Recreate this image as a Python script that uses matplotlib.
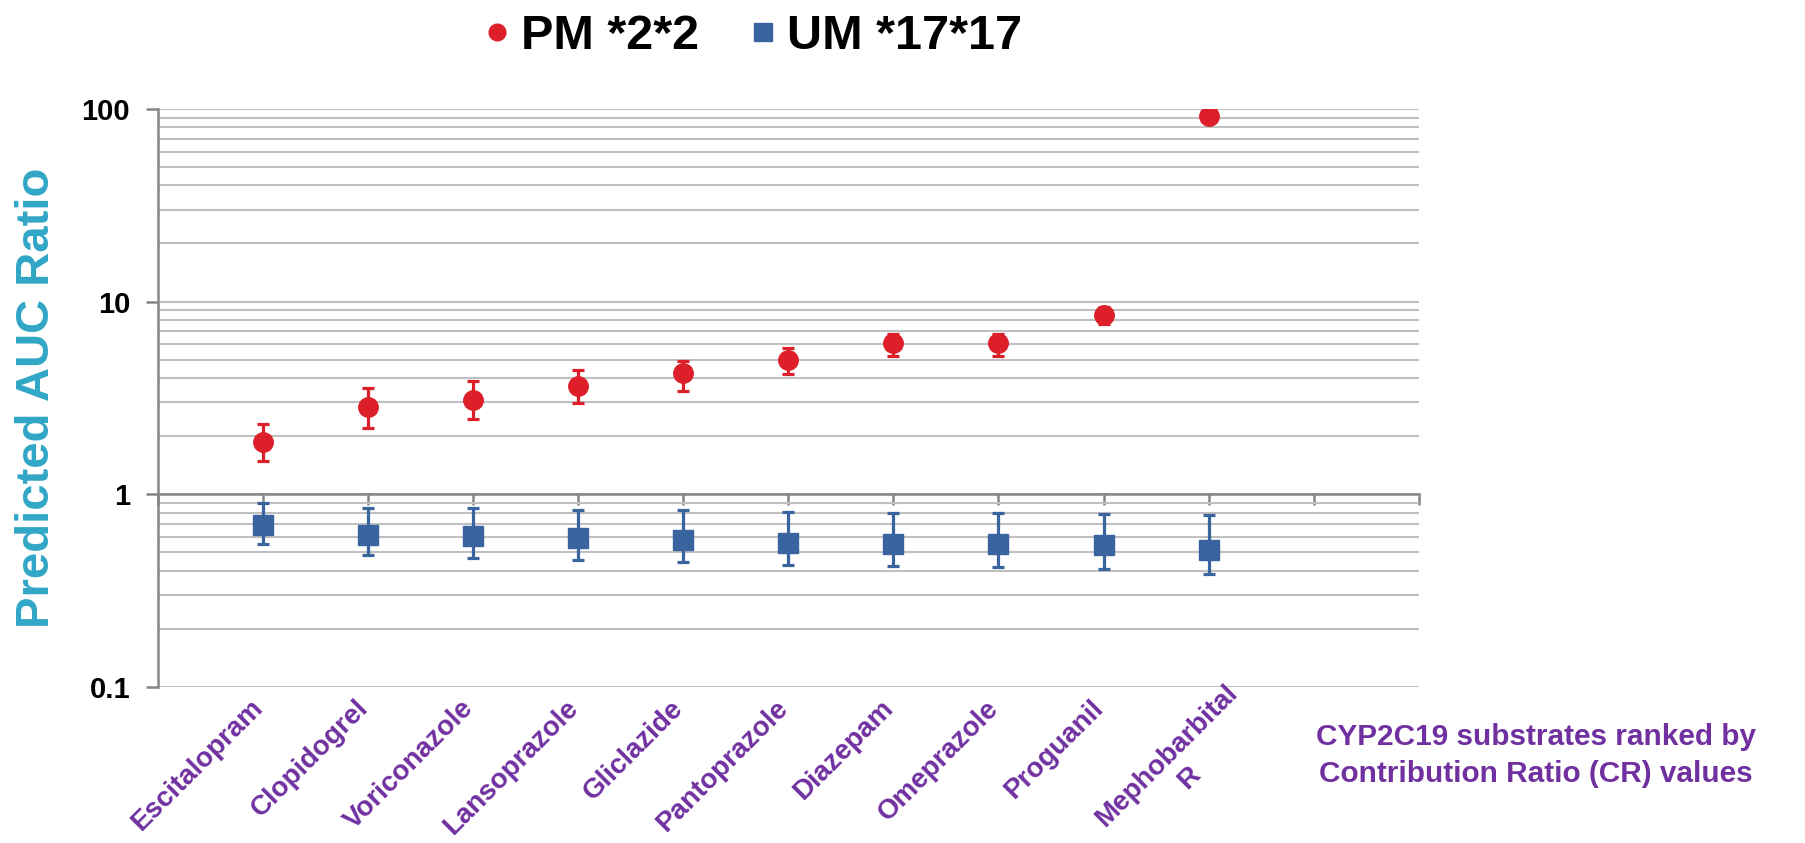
import matplotlib
matplotlib.use("Agg")
import matplotlib.pyplot as plt
from matplotlib.lines import Line2D
import matplotlib.transforms as mtransforms
import numpy as np

plt.rcParams['font.family'] = ['Liberation Sans', 'DejaVu Sans']

# substrates ranked by contribution ratio
drugs = ['Escitalopram', 'Clopidogrel', 'Voriconazole', 'Lansoprazole', 'Gliclazide',
         'Pantoprazole', 'Diazepam', 'Omeprazole', 'Proguanil', 'Mephobarbital\nR']

# PM *2*2 predicted AUC ratio with upper / lower error bar ends
pm_mean = [1.86, 2.85, 3.09, 3.65, 4.24, 5.0, 6.07, 6.07, 8.56, 92.0]
pm_hi = [2.32, 3.55, 3.85, 4.42, 4.94, 5.74, 6.77, 6.77, 9.42, 92.0]
pm_lo = [1.49, 2.22, 2.45, 2.97, 3.45, 4.19, 5.22, 5.22, 7.67, 92.0]

# UM *17*17
um_mean = [0.69, 0.618, 0.61, 0.593, 0.577, 0.561, 0.553, 0.553, 0.546, 0.517]
um_hi = [0.896, 0.848, 0.848, 0.825, 0.825, 0.813, 0.802, 0.802, 0.79, 0.78]
um_lo = [0.553, 0.482, 0.469, 0.456, 0.444, 0.432, 0.426, 0.42, 0.409, 0.387]

RED = '#DC1F28'
BLUE = '#3A64A0'
PURPLE = '#7030A0'
TEAL = '#31A6C6'

fig = plt.figure(figsize=(18.05, 8.43), dpi=100)
ax = fig.add_axes([0.0875, 0.185, 0.6985, 0.686])

x = np.arange(1, len(drugs) + 1)

pm_mean = np.array(pm_mean)
um_mean = np.array(um_mean)
pm_err = [pm_mean - np.array(pm_lo), np.array(pm_hi) - pm_mean]
um_err = [um_mean - np.array(um_lo), np.array(um_hi) - um_mean]

ax.errorbar(x, pm_mean, yerr=pm_err, fmt='o', color=RED, ms=14, ecolor=RED,
            elinewidth=2.3, capsize=4.5, capthick=2.3, zorder=4)
ax.errorbar(x, um_mean, yerr=um_err, fmt='s', color=BLUE, ms=14, ecolor=BLUE,
            elinewidth=2.3, capsize=4.5, capthick=2.3, zorder=4)

ax.set_yscale('log')
ax.set_ylim(0.1, 100)
ax.set_xlim(0, 12)

# grid: every decade and its minor steps
ax.yaxis.grid(True, which='both', color='#C0C0C0', linewidth=1.5, zorder=0)
ax.set_axisbelow(True)

for s in ['top', 'right']:
    ax.spines[s].set_visible(False)
ax.spines['left'].set_color('#868686')
ax.spines['left'].set_linewidth(1.8)
ax.spines['bottom'].set_position(('data', 1))
ax.spines['bottom'].set_color('#868686')
ax.spines['bottom'].set_linewidth(1.8)

ax.set_xticks(np.arange(0, 13))
ax.tick_params(axis='x', direction='out', length=8, width=1.8, color='#868686',
               labelbottom=False)
ax.set_yticks([0.1, 1, 10, 100])
ax.set_yticklabels(['0.1', '1', '10', '100'])
ax.tick_params(axis='y', which='major', direction='out', length=9, width=1.8,
               color='#868686', labelsize=21, pad=11)
ax.tick_params(axis='y', which='minor', length=0)
for lab in ax.get_yticklabels():
    lab.set_fontweight('bold')

# category labels below the plot area
# (two-line label drawn as two texts so each box stays inside the figure)
for xi, name in zip(x, drugs):
    lines = name.split('\n')
    if len(lines) > 1:
        dx, dy = 0.16, 0.07
    else:
        dx, dy = -0.13, -0.08
    offset = mtransforms.ScaledTranslation(dx, dy, fig.dpi_scale_trans)
    t1 = ax.text(xi, 0.1, lines[0], rotation=45, rotation_mode='anchor', ha='right',
                 va='top', color=PURPLE, fontsize=20, fontweight='bold',
                 transform=ax.transData + offset)
    if len(lines) > 1:
        ax.annotate(lines[1], xy=(0.5, 0.5), xycoords=t1, xytext=(16, -16),
                    textcoords='offset points', rotation=45, rotation_mode='anchor',
                    ha='center', va='center', color=PURPLE, fontsize=20,
                    fontweight='bold')

ax.set_ylabel('Predicted AUC Ratio', color=TEAL, fontsize=34, fontweight='bold', labelpad=16)

fig.text(0.851, 0.104, 'CYP2C19 substrates ranked by\nContribution Ratio (CR) values',
         ha='center', va='center', color=PURPLE, fontsize=21.4, fontweight='bold',
         linespacing=1.42)

handles = [Line2D([], [], marker='o', ls='none', color=RED, ms=12),
           Line2D([], [], marker='s', ls='none', color=BLUE, ms=13)]
leg = fig.legend(handles, ['PM *2*2', 'UM *17*17'], loc='upper center',
                 bbox_to_anchor=(0.414, 1.035), ncol=2, frameon=False,
                 prop={'size': 35, 'weight': 'bold'}, handletextpad=0.0,
                 columnspacing=0.8, handlelength=1.0)

fig.savefig('out.png', dpi=100)
